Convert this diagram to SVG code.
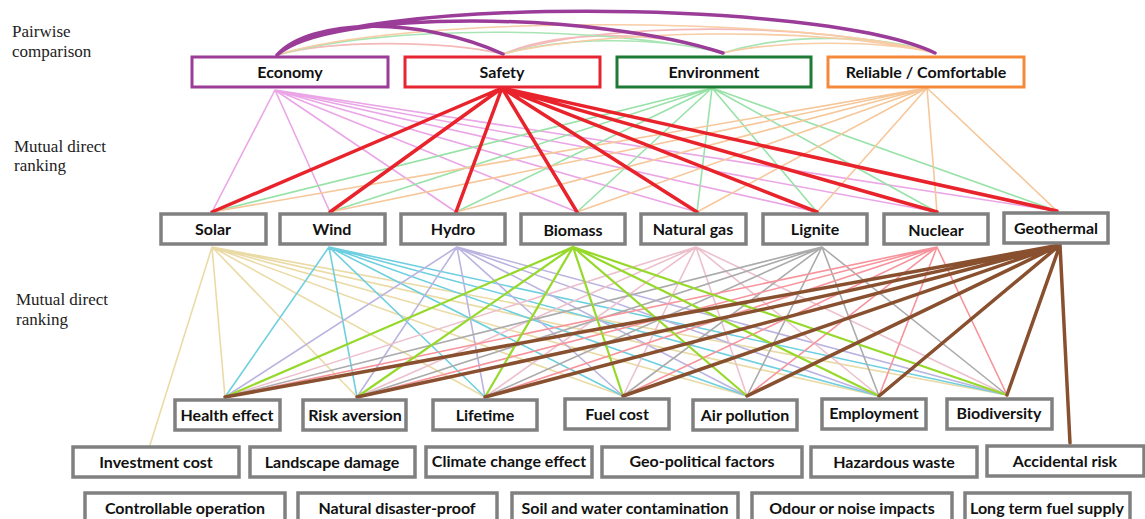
<svg xmlns="http://www.w3.org/2000/svg" width="1145" height="519" viewBox="0 0 1145 519">
<style>
.lbl{font-family:"Liberation Serif","Times New Roman",serif;font-size:17px;fill:#222}
.t{font-family:Lato,"Liberation Sans",sans-serif;font-weight:700;font-size:16px;fill:#111;text-anchor:middle}
.b{fill:#fff;stroke-width:3}
.g{fill:#fff;stroke:#808080;stroke-width:3.5}
.c{fill:none;stroke-linecap:round}
.thin{stroke-width:1.6}
.thick{stroke-width:3.5}
</style>
<rect width="1145" height="519" fill="#fff"/>
<text class="lbl" x="12" y="37">Pairwise</text>
<text class="lbl" x="12" y="57">comparison</text>
<text class="lbl" x="14" y="152">Mutual direct</text>
<text class="lbl" x="14" y="171">ranking</text>
<text class="lbl" x="16" y="305">Mutual direct</text>
<text class="lbl" x="16" y="325">ranking</text>
<g id="connectors">
 <g id="pairwise">
  <path class="c thin" stroke="#f4b9b9" d="M503,54 C440,40 330,40 277,55 M503,54 C560,30 660,30 723,53 M503,54 C600,20 820,22 935,53"/>
  <path class="c thin" stroke="#a8e4b4" d="M723,53 C600,25 380,25 277,55 M723,53 C790,32 880,35 935,53 M723,53 C650,35 560,38 503,54"/>
  <path class="c thin" stroke="#f8cca4" d="M935,53 C800,15 400,15 277,55 M935,53 C820,25 600,30 503,54 M935,53 C880,40 780,40 723,53"/>
  <path class="c thick" stroke="#9a3c98" d="M277,55 C310,18 420,16 503,54 M277,55 C330,8 600,12 723,53 M277,55 C340,-4 820,-2 935,53"/>
 </g>
 <g id="level1">
  <path class="c thin" stroke="#eaa6e6" d="M275,90L212,212M275,90L330,212M275,90L456,212M275,90L577,212M275,90L697,212M275,90L817,212M275,90L937,212M275,90L1057,211"/>
  <path class="c thin" stroke="#98e2a8" d="M712,88L212,212M712,88L330,212M712,88L456,212M712,88L577,212M712,88L697,212M712,88L817,212M712,88L937,212M712,88L1057,211"/>
  <path class="c thin" stroke="#f6c79a" d="M927,88L212,212M927,88L330,212M927,88L456,212M927,88L577,212M927,88L697,212M927,88L817,212M927,88L937,212M927,88L1057,211"/>
  <path class="c thick" stroke="#e8232b" d="M502,88L212,212M502,88L330,212M502,88L456,212M502,88L577,212M502,88L697,212M502,88L817,212M502,88L937,212M502,88L1057,211"/>
 </g>
 <g id="level2">
  <path class="c thin" stroke="#eadba6" d="M212,247L225,397M212,247L357,397M212,247L485,397M212,247L623,396M212,247L747,396M212,247L879,396M212,247L1007,395M212,247L150,445"/>
  <path class="c thin" stroke="#6ecfe0" d="M329,247L225,397M329,247L357,397M329,247L485,397M329,247L623,396M329,247L747,396M329,247L879,396M329,247L1007,395"/>
  <path class="c thin" stroke="#bbb4e0" d="M457,247L225,397M457,247L357,397M457,247L485,397M457,247L623,396M457,247L747,396M457,247L879,396M457,247L1007,395"/>
  <path class="c thin" stroke="#ecc0cc" d="M696,247L225,397M696,247L357,397M696,247L485,397M696,247L623,396M696,247L747,396M696,247L879,396M696,247L1007,395"/>
  <path class="c thin" stroke="#ababab" d="M822,247L225,397M822,247L357,397M822,247L485,397M822,247L623,396M822,247L747,396M822,247L879,396M822,247L1007,395"/>
  <path class="c thin" stroke="#f7939b" d="M937,247L225,397M937,247L357,397M937,247L485,397M937,247L623,396M937,247L747,396M937,247L879,396M937,247L1007,395"/>
  <path class="c" stroke-width="2.2" stroke="#96d92a" d="M573,247L225,397M573,247L357,397M573,247L485,397M573,247L623,396M573,247L747,396M573,247L879,396M573,247L1007,395"/>
  <path class="c thick" stroke="#88502e" d="M1060,245L225,397M1060,245L357,397M1060,245L485,397M1060,245L623,396M1060,245L747,396M1060,245L879,396M1060,245L1007,395M1060,245L1070,443"/>
 </g>
</g>
<g id="n-economy"><rect class="b" stroke="#9a3c98" x="192" y="57" width="196" height="30"/><text class="t" x="290" y="78">Economy</text></g>
<g id="n-safety"><rect class="b" stroke="#e52530" x="405" y="57" width="195" height="30"/><text class="t" x="502" y="78">Safety</text></g>
<g id="n-environment"><rect class="b" stroke="#1e7a34" x="617" y="57" width="194" height="30"/><text class="t" x="714" y="78">Environment</text></g>
<g id="n-reliable"><rect class="b" stroke="#f5893a" x="828" y="57" width="196" height="30"/><text class="t" x="926" y="78">Reliable / Comfortable</text></g>

<g id="n-solar"><rect class="g" x="161" y="214" width="105" height="30"/><text class="t" x="213" y="235">Solar</text></g>
<g id="n-wind"><rect class="g" x="280" y="214" width="105" height="30"/><text class="t" x="332" y="235">Wind</text></g>
<g id="n-hydro"><rect class="g" x="401" y="214" width="104" height="30"/><text class="t" x="453" y="235">Hydro</text></g>
<g id="n-biomass"><rect class="g" x="521" y="214" width="104" height="30"/><text class="t" x="573" y="236">Biomass</text></g>
<g id="n-natgas"><rect class="g" x="641" y="214" width="105" height="30"/><text class="t" x="693" y="235">Natural gas</text></g>
<g id="n-lignite"><rect class="g" x="763" y="214" width="104" height="30"/><text class="t" x="815" y="235">Lignite</text></g>
<g id="n-nuclear"><rect class="g" x="884" y="214" width="104" height="30"/><text class="t" x="936" y="236">Nuclear</text></g>
<g id="n-geothermal"><rect class="g" x="1004" y="213" width="104" height="30"/><text class="t" x="1056" y="234">Geothermal</text></g>

<g id="n-health"><rect class="g" x="175" y="400" width="105" height="30"/><text class="t" x="227" y="421">Health effect</text></g>
<g id="n-risk"><rect class="g" x="303" y="400" width="103" height="30"/><text class="t" x="355" y="421">Risk aversion</text></g>
<g id="n-lifetime"><rect class="g" x="433" y="400" width="104" height="30"/><text class="t" x="485" y="421">Lifetime</text></g>
<g id="n-fuelcost"><rect class="g" x="565" y="399" width="104" height="30"/><text class="t" x="617" y="420">Fuel cost</text></g>
<g id="n-airpollution"><rect class="g" x="693" y="400" width="104" height="30"/><text class="t" x="745" y="421">Air pollution</text></g>
<g id="n-employment"><rect class="g" x="822" y="399" width="104" height="30"/><text class="t" x="874" y="419">Employment</text></g>
<g id="n-biodiversity"><rect class="g" x="947" y="399" width="105" height="30"/><text class="t" x="999" y="419">Biodiversity</text></g>

<g id="n-investment"><rect class="g" x="73" y="447" width="166" height="30"/><text class="t" x="156" y="468">Investment cost</text></g>
<g id="n-landscape"><rect class="g" x="250" y="447" width="165" height="30"/><text class="t" x="332" y="468">Landscape damage</text></g>
<g id="n-climate"><rect class="g" x="426" y="447" width="166" height="30"/><text class="t" x="509" y="467">Climate change effect</text></g>
<g id="n-geopolitical"><rect class="g" x="602" y="447" width="200" height="30"/><text class="t" x="702" y="467">Geo-political factors</text></g>
<g id="n-hazardous"><rect class="g" x="811" y="447" width="166" height="30"/><text class="t" x="894" y="468">Hazardous waste</text></g>
<g id="n-accidental"><rect class="g" x="987" y="446" width="157" height="30"/><text class="t" x="1065" y="467">Accidental risk</text></g>

<g id="n-controllable"><rect class="g" x="85" y="493" width="200" height="32"/><text class="t" x="185" y="514">Controllable operation</text></g>
<g id="n-disaster"><rect class="g" x="298" y="493" width="199" height="32"/><text class="t" x="397" y="514">Natural disaster-proof</text></g>
<g id="n-soil"><rect class="g" x="512" y="493" width="226" height="32"/><text class="t" x="625" y="514">Soil and water contamination</text></g>
<g id="n-odour"><rect class="g" x="752" y="493" width="200" height="32"/><text class="t" x="852" y="514">Odour or noise impacts</text></g>
<g id="n-longterm"><rect class="g" x="965" y="493" width="165" height="32"/><text class="t" x="1047" y="514">Long term fuel supply</text></g>
</svg>
